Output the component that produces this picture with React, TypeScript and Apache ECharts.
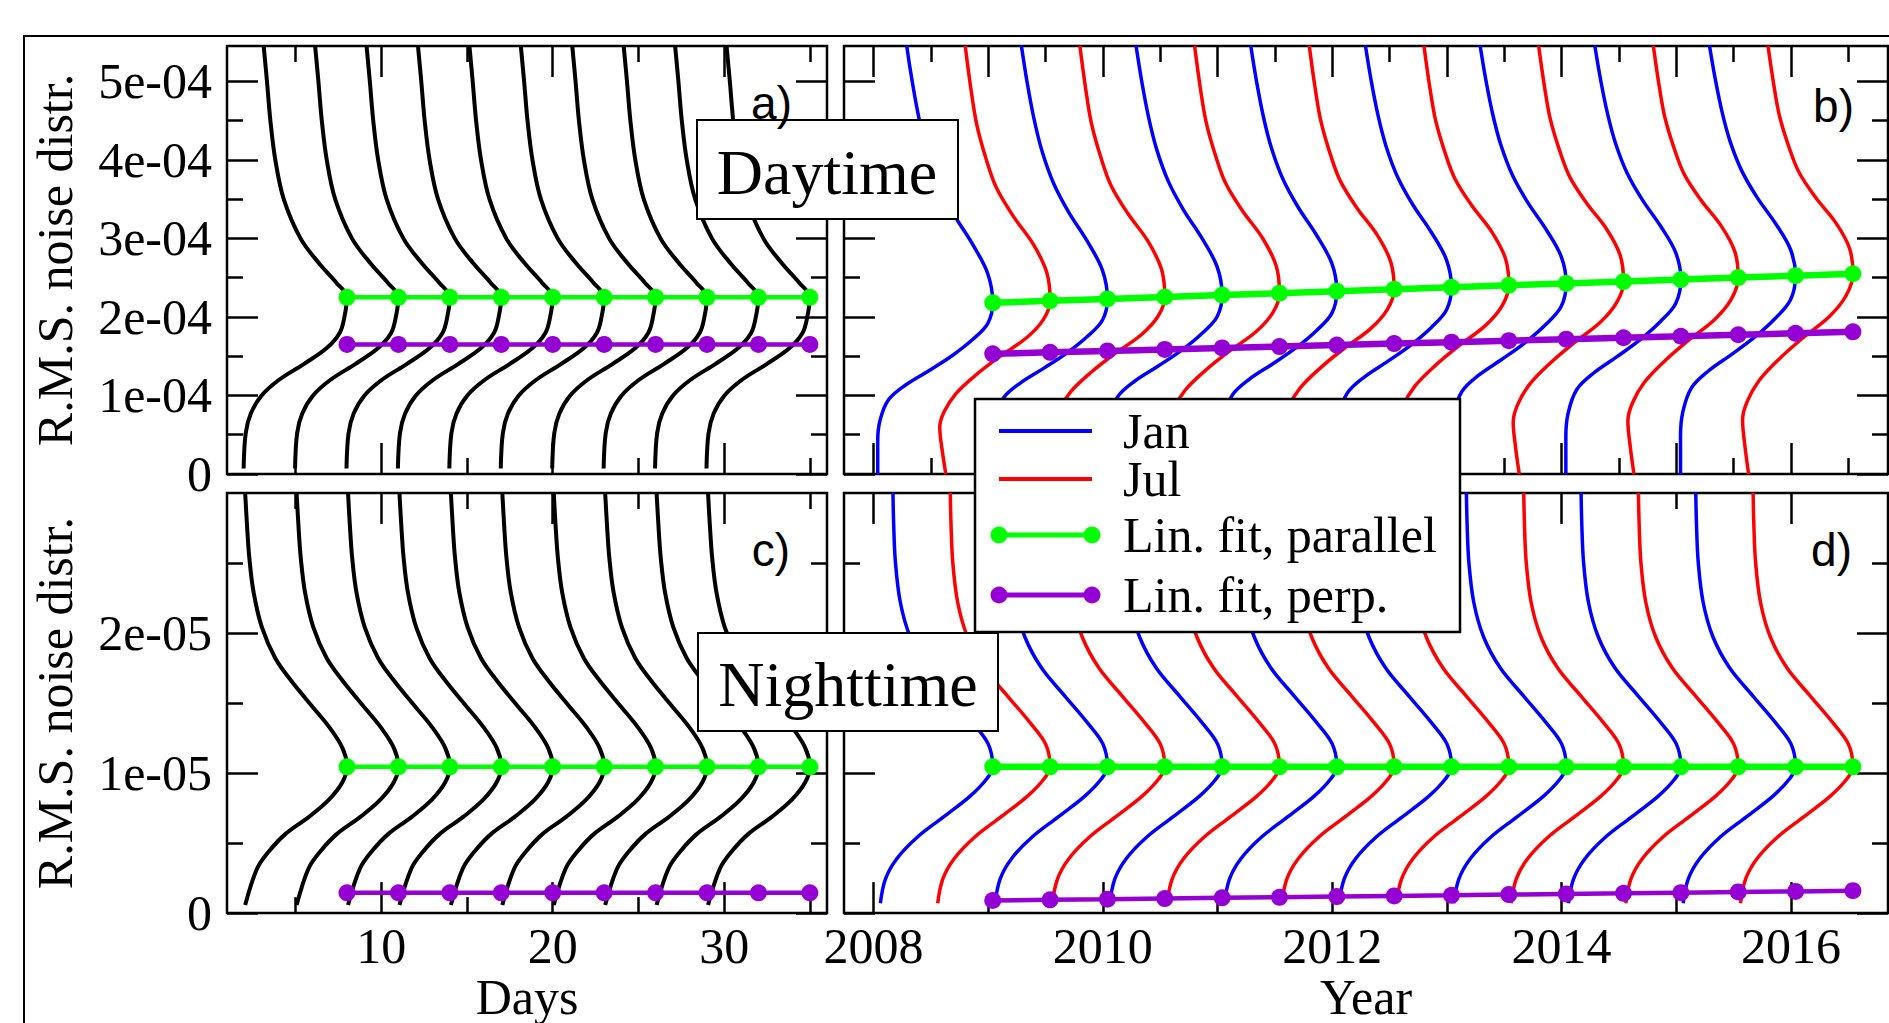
import React, { useEffect, useRef } from 'react';
import * as echarts from 'echarts';

const SERIF = "'Liberation Serif', 'Times New Roman', serif";
const SANS = "'Liberation Sans', Arial, sans-serif";

// ---------- Panels a / c (Days) ----------
const dayCenters = [8, 11, 14, 17, 20, 23, 26, 29, 32, 35];
const dayParallelA = [2.25e-4, 2.25e-4, 2.25e-4, 2.25e-4, 2.25e-4, 2.25e-4, 2.25e-4, 2.25e-4, 2.25e-4, 2.25e-4];
const dayPerpA = [1.65e-4, 1.65e-4, 1.65e-4, 1.65e-4, 1.65e-4, 1.65e-4, 1.65e-4, 1.65e-4, 1.65e-4, 1.65e-4];
const nightParallelC = [1.045e-5, 1.045e-5, 1.045e-5, 1.045e-5, 1.045e-5, 1.045e-5, 1.045e-5, 1.045e-5, 1.045e-5, 1.045e-5];
const nightPerpC = [1.45e-6, 1.45e-6, 1.45e-6, 1.45e-6, 1.45e-6, 1.45e-6, 1.45e-6, 1.45e-6, 1.45e-6, 1.45e-6];

// ---------- Panels b / d (Year) ----------
const monthCenters = [2009.04, 2009.54, 2010.04, 2010.54, 2011.04, 2011.54, 2012.04, 2012.54,
  2013.04, 2013.54, 2014.04, 2014.54, 2015.04, 2015.54, 2016.04, 2016.54];
const monthNames = ['Jan', 'Jul', 'Jan', 'Jul', 'Jan', 'Jul', 'Jan', 'Jul',
  'Jan', 'Jul', 'Jan', 'Jul', 'Jan', 'Jul', 'Jan', 'Jul'];
const dayParallelB = [2.180e-4, 2.205e-4, 2.229e-4, 2.254e-4, 2.279e-4, 2.303e-4, 2.328e-4, 2.353e-4,
  2.377e-4, 2.402e-4, 2.427e-4, 2.451e-4, 2.476e-4, 2.501e-4, 2.525e-4, 2.550e-4];
const dayPerpB = [1.530e-4, 1.549e-4, 1.567e-4, 1.586e-4, 1.605e-4, 1.623e-4, 1.642e-4, 1.661e-4,
  1.679e-4, 1.698e-4, 1.717e-4, 1.735e-4, 1.754e-4, 1.773e-4, 1.791e-4, 1.810e-4];
const nightParallelD = [1.045e-5, 1.045e-5, 1.045e-5, 1.045e-5, 1.045e-5, 1.045e-5, 1.045e-5, 1.045e-5,
  1.045e-5, 1.045e-5, 1.045e-5, 1.045e-5, 1.045e-5, 1.045e-5, 1.045e-5, 1.045e-5];
const nightPerpD = [0.90e-6, 0.95e-6, 0.99e-6, 1.04e-6, 1.09e-6, 1.13e-6, 1.18e-6, 1.23e-6,
  1.27e-6, 1.32e-6, 1.37e-6, 1.41e-6, 1.46e-6, 1.51e-6, 1.55e-6, 1.60e-6];

// ---------- Distribution profiles ----------
// [value (in 1e-4 or 1e-5 units), horizontal offset in units of two sampling steps]
const profileDayA: number[][] = [[0.07, -1.005], [0.52, -0.985], [0.77, -0.935], [1.0, -0.83], [1.2, -0.66],
  [1.4, -0.42], [1.6, -0.2], [1.8, -0.07], [2.0, -0.025], [2.25, 0], [2.43, -0.1], [2.68, -0.27], [3.0, -0.452],
  [3.5, -0.615], [4.0, -0.697], [4.5, -0.745], [5.0, -0.778], [5.45, -0.81]];
const profileNightC: number[][] = [[0.058, -0.99], [0.317, -0.875], [0.44, -0.76], [0.564, -0.6], [0.687, -0.37],
  [0.81, -0.175], [0.934, -0.045], [1.045, 0], [1.18, -0.045], [1.33, -0.175], [1.476, -0.338], [1.65, -0.533],
  [1.82, -0.697], [2.04, -0.827], [2.29, -0.908], [2.54, -0.95], [2.78, -0.973], [3.0, -0.99]];
const profileDayJan: number[][] = [[0.0, -1.003], [0.475, -1.003], [0.773, -0.983], [1.07, -0.909], [1.28, -0.763],
  [1.49, -0.557], [1.71, -0.352], [1.94, -0.176], [2.17, -0.044], [2.47, 0], [2.81, -0.044], [3.15, -0.176],
  [3.49, -0.337], [3.83, -0.469], [4.21, -0.57], [4.59, -0.64], [5.02, -0.70], [5.45, -0.75]];
const profileDayJul: number[][] = [[0.0, -0.909], [0.306, -0.939], [0.645, -0.962], [0.858, -0.924], [1.11, -0.821],
  [1.37, -0.645], [1.62, -0.44], [1.88, -0.205], [2.13, -0.059], [2.39, 0], [2.73, -0.029], [3.07, -0.147],
  [3.41, -0.323], [3.75, -0.469], [4.09, -0.557], [4.51, -0.64], [4.93, -0.69], [5.45, -0.74]];
const profileNightD: number[][] = [[0.07, -0.98], [0.243, -0.936], [0.39, -0.835], [0.54, -0.661], [0.687, -0.429],
  [0.835, -0.197], [0.959, -0.052], [1.045, 0], [1.205, -0.038], [1.353, -0.168], [1.55, -0.371], [1.75, -0.574],
  [1.97, -0.719], [2.22, -0.806], [2.51, -0.849], [2.78, -0.864], [3.0, -0.87]];

// ---------- Ticks ----------
const dayTicksMajor = [10, 20, 30];
const dayTicksMinor = [5, 15, 25, 35];
const dayTickLabels = ['10', '20', '30'];
const yearTicksMajorB = [2008, 2009, 2010, 2011, 2012, 2013, 2014, 2015, 2016];
const yearTicksMinorB = [2008.5, 2009.5, 2010.5, 2011.5, 2012.5, 2013.5, 2014.5, 2015.5, 2016.5];
const yearTicksMajorD = [2008, 2010, 2012, 2014, 2016];
const yearTicksMinorD = [2009, 2011, 2013, 2015];
const yearTickLabels = ['2008', '2010', '2012', '2014', '2016'];
const rmsDayTicksMajor = [0, 1e-4, 2e-4, 3e-4, 4e-4, 5e-4];
const rmsDayTicksMinor = [0.5e-4, 1.5e-4, 2.5e-4, 3.5e-4, 4.5e-4];
const rmsDayTickLabels = ['0', '1e-04', '2e-04', '3e-04', '4e-04', '5e-04'];
const rmsNightTicksMajor = [0, 1e-5, 2e-5];
const rmsNightTicksMinor = [0.5e-5, 1.5e-5, 2.5e-5];
const rmsNightTickLabels = ['0', '1e-05', '2e-05'];

function buildCurve(prof: number[][], profPeak: number, top: number, peakVal: number,
  center: number, span: number, unit: number) {
  const pv = peakVal / unit;
  return prof.map(([v, f]) => {
    const y = v <= profPeak ? (v * pv) / profPeak : pv + ((v - profPeak) * (top - pv)) / (top - profPeak);
    return [center + f * span, y * unit];
  });
}

function makeAxes(gi: number, dim: 'x' | 'y', min: number, max: number, major: number[], minor: number[],
  labels: string[] | null, name: string | null, nameGap: number) {
  const sides = dim === 'x' ? ['bottom', 'top'] : ['left', 'right'];
  const out: any[] = [];
  sides.forEach((pos, si) => {
    [major, minor].forEach((vals, ki) => {
      const withLabels = si === 0 && ki === 0 && labels;
      const ax: any = {
        type: 'value', gridIndex: gi, min, max, position: pos,
        axisLine: { show: false, onZero: false },
        splitLine: { show: false },
        axisTick: { show: true, inside: true, length: ki === 0 ? 31 : 16, customValues: vals,
          lineStyle: { color: '#000', width: 2.5 } },
        axisLabel: withLabels ? {
          show: true, customValues: major,
          formatter: (v: number) => {
            const i = major.findIndex((t) => Math.abs(t - v) <= Math.abs(t) * 1e-6 + 1e-15);
            return i >= 0 ? labels![i] : '';
          },
          margin: dim === 'x' ? 8 : 15, fontSize: 50, fontFamily: SERIF, color: '#000',
          hideOverlap: false,
        } : { show: false },
      };
      if (si === 0 && ki === 0 && name) {
        ax.name = name;
        ax.nameLocation = 'middle';
        ax.nameGap = nameGap;
        if (dim === 'y') ax.nameRotate = 90;
        ax.nameTextStyle = { fontSize: 50, fontFamily: SERIF, color: '#000' };
      }
      out.push(ax);
    });
  });
  return out;
}

function lineSeries(gi: number, data: number[][], color: string, width: number, smooth: boolean, symbol: boolean) {
  return {
    type: 'line', xAxisIndex: gi * 4, yAxisIndex: gi * 4, data,
    smooth: smooth ? 0.35 : false,
    showSymbol: symbol, symbol: symbol ? 'circle' : 'none', symbolSize: 17,
    lineStyle: { color, width },
    itemStyle: { color },
    emphasis: { disabled: true }, silent: true, z: symbol ? 5 : 3,
  };
}

function buildOption() {
  const gridBase = { show: true, borderColor: '#000', borderWidth: 2.5, backgroundColor: 'rgba(0,0,0,0)' };
  const grid = [
    { ...gridBase, left: 227, top: 46, width: 600, height: 428 },
    { ...gridBase, left: 844, top: 46, width: 1044, height: 428 },
    { ...gridBase, left: 227, top: 493, width: 600, height: 428 },
    { ...gridBase, left: 844, top: 493, width: 1044, height: 428 },
  ];
  const DAYMIN = 1, DAYMAX = 36, YMIN = 2007.743, YMAX = 2016.846;
  const RDMAX = 5.45e-4, RNMAX = 3e-5;
  const xAxis = [
    ...makeAxes(0, 'x', DAYMIN, DAYMAX, dayTicksMajor, dayTicksMinor, null, null, 0),
    ...makeAxes(1, 'x', YMIN, YMAX, yearTicksMajorB, yearTicksMinorB, null, null, 0),
    ...makeAxes(2, 'x', DAYMIN, DAYMAX, dayTicksMajor, dayTicksMinor, dayTickLabels, 'Days', 56),
    ...makeAxes(3, 'x', YMIN, YMAX, yearTicksMajorD, yearTicksMinorD, yearTickLabels, 'Year', 56),
  ];
  const yAxis = [
    ...makeAxes(0, 'y', 0, RDMAX, rmsDayTicksMajor, rmsDayTicksMinor, rmsDayTickLabels, 'R.M.S. noise distr.', 147),
    ...makeAxes(1, 'y', 0, RDMAX, rmsDayTicksMajor, rmsDayTicksMinor, null, null, 0),
    ...makeAxes(2, 'y', 0, RNMAX, rmsNightTicksMajor, rmsNightTicksMinor, rmsNightTickLabels, 'R.M.S. noise distr.', 147),
    ...makeAxes(3, 'y', 0, RNMAX, rmsNightTicksMajor, rmsNightTicksMinor, null, null, 0),
  ];

  const series: any[] = [];
  // a
  dayCenters.forEach((c, i) => series.push(lineSeries(0,
    buildCurve(profileDayA, 2.25, 5.45, dayParallelA[i], c, 6, 1e-4), '#000', 4, true, false)));
  series.push(lineSeries(0, dayCenters.map((c, i) => [c, dayParallelA[i]]), '#00ff00', 4.5, false, true));
  series.push(lineSeries(0, dayCenters.map((c, i) => [c, dayPerpA[i]]), '#9400d3', 4.5, false, true));
  // b
  monthCenters.forEach((c, i) => {
    const jan = monthNames[i] === 'Jan';
    series.push(lineSeries(1,
      buildCurve(jan ? profileDayJan : profileDayJul, jan ? 2.47 : 2.39, 5.45, dayParallelB[i], c, 1, 1e-4),
      jan ? '#0000ff' : '#ff0000', 3.5, true, false));
  });
  series.push(lineSeries(1, monthCenters.map((c, i) => [c, dayParallelB[i]]), '#00ff00', 6.5, false, true));
  series.push(lineSeries(1, monthCenters.map((c, i) => [c, dayPerpB[i]]), '#9400d3', 6.5, false, true));
  // c
  dayCenters.forEach((c, i) => series.push(lineSeries(2,
    buildCurve(profileNightC, 1.045, 3.0, nightParallelC[i], c, 6, 1e-5), '#000', 4, true, false)));
  series.push(lineSeries(2, dayCenters.map((c, i) => [c, nightParallelC[i]]), '#00ff00', 4.5, false, true));
  series.push(lineSeries(2, dayCenters.map((c, i) => [c, nightPerpC[i]]), '#9400d3', 4.5, false, true));
  // d
  monthCenters.forEach((c, i) => {
    const jan = monthNames[i] === 'Jan';
    series.push(lineSeries(3,
      buildCurve(profileNightD, 1.045, 3.0, nightParallelD[i], c, 1, 1e-5),
      jan ? '#0000ff' : '#ff0000', 3.5, true, false));
  });
  series.push(lineSeries(3, monthCenters.map((c, i) => [c, nightParallelD[i]]), '#00ff00', 6.5, false, true));
  series.push(lineSeries(3, monthCenters.map((c, i) => [c, nightPerpD[i]]), '#9400d3', 4.5, false, true));

  const txt = (x: number, y: number, text: string, size: number, family: string, align: string) => ({
    type: 'text', x, y, z: 102,
    style: { text, fontSize: size, fontFamily: family, fill: '#000', align, verticalAlign: 'middle',
      textAlign: align, textVerticalAlign: 'middle' },
  });
  const legendItems = [
    { label: 'Jan', color: '#0000ff', y: 431, dots: false, w: 4 },
    { label: 'Jul', color: '#ff0000', y: 479, dots: false, w: 4 },
    { label: 'Lin. fit, parallel', color: '#00ff00', y: 535, dots: true, w: 5 },
    { label: 'Lin. fit, perp.', color: '#9400d3', y: 595, dots: true, w: 5 },
  ];
  const elements: any[] = [
    { type: 'polyline', z: 90, shape: { points: [[24, 1060], [24, 36], [1920, 36]] },
      style: { stroke: '#000', lineWidth: 2, fill: null } },
    { type: 'rect', z: 100, shape: { x: 697, y: 120, width: 261, height: 99 },
      style: { fill: '#fff', stroke: '#000', lineWidth: 2 } },
    txt(827, 172, 'Daytime', 64, SERIF, 'center'),
    { type: 'rect', z: 100, shape: { x: 698, y: 633, width: 300, height: 98 },
      style: { fill: '#fff', stroke: '#000', lineWidth: 2 } },
    txt(848, 684, 'Nighttime', 64, SERIF, 'center'),
    { type: 'rect', z: 100, shape: { x: 975, y: 399, width: 485, height: 233 },
      style: { fill: '#fff', stroke: '#000', lineWidth: 2.5 } },
    txt(792, 103, 'a)', 46, SANS, 'right'),
    txt(1854, 106, 'b)', 46, SANS, 'right'),
    txt(790, 550, 'c)', 46, SANS, 'right'),
    txt(1852, 550, 'd)', 46, SANS, 'right'),
  ];
  legendItems.forEach((it) => {
    elements.push({ type: 'line', z: 101, shape: { x1: 999, y1: it.y, x2: 1092, y2: it.y },
      style: { stroke: it.color, lineWidth: it.w } });
    if (it.dots) {
      elements.push({ type: 'circle', z: 101, shape: { cx: 999, cy: it.y, r: 8.5 }, style: { fill: it.color } });
      elements.push({ type: 'circle', z: 101, shape: { cx: 1092, cy: it.y, r: 8.5 }, style: { fill: it.color } });
    }
    elements.push(txt(1123, it.y, it.label, 50, SERIF, 'left'));
  });

  return {
    animation: false,
    backgroundColor: '#fff',
    grid, xAxis, yAxis, series,
    graphic: { elements },
  };
}

export default function App() {
  const ref = useRef<HTMLDivElement>(null);
  useEffect(() => {
    const chart = echarts.init(ref.current!, null, { renderer: 'svg' });
    chart.setOption(buildOption() as any);
    return () => chart.dispose();
  }, []);
  return (
    <div ref={ref}
      style={{ position: 'fixed', left: 0, top: 0, width: 1889, height: 1023, background: '#fff' }} />
  );
}
